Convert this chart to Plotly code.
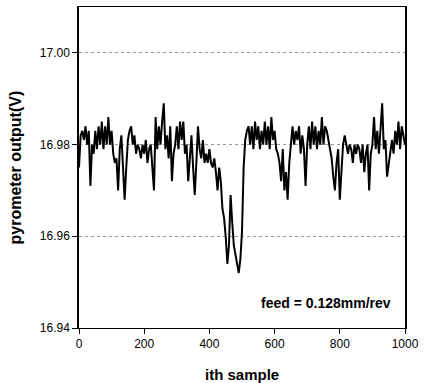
import plotly.graph_objects as go

# sample index (every 5th sample)
samples = list(range(0, 1001, 5))

# pyrometer output (V)
output_v = [
    16.975, 16.982, 16.983, 16.981, 16.984, 16.980, 16.983, 16.971, 16.980, 16.978,
    16.983, 16.979, 16.984, 16.980, 16.985, 16.979, 16.984, 16.980, 16.986, 16.980,
    16.983, 16.978, 16.976, 16.977, 16.970, 16.979, 16.982, 16.974, 16.968, 16.975,
    16.981, 16.983, 16.984, 16.980, 16.982, 16.978, 16.980, 16.979, 16.977, 16.980,
    16.978, 16.981, 16.976, 16.979, 16.980, 16.975, 16.970, 16.986, 16.979, 16.984,
    16.980, 16.985, 16.989, 16.979, 16.982, 16.977, 16.984, 16.972, 16.978, 16.980,
    16.984, 16.979, 16.985, 16.981, 16.985, 16.978, 16.980, 16.972, 16.977, 16.982,
    16.975, 16.969, 16.976, 16.984, 16.979, 16.977, 16.981, 16.976, 16.978, 16.976,
    16.979, 16.976, 16.975, 16.977, 16.974, 16.970, 16.975, 16.972, 16.966, 16.964,
    16.960, 16.954, 16.958, 16.969, 16.963, 16.958, 16.956, 16.954, 16.952, 16.955,
    16.961, 16.975, 16.981, 16.983, 16.984, 16.980, 16.984, 16.979, 16.985, 16.981,
    16.984, 16.979, 16.983, 16.980, 16.985, 16.980, 16.984, 16.979, 16.986, 16.981,
    16.983, 16.979, 16.978, 16.976, 16.972, 16.979, 16.970, 16.974, 16.968, 16.976,
    16.981, 16.984, 16.980, 16.983, 16.981, 16.984, 16.978, 16.982, 16.979, 16.971,
    16.980, 16.984, 16.979, 16.985, 16.980, 16.984, 16.979, 16.983, 16.980, 16.986,
    16.980, 16.984, 16.983, 16.981, 16.979, 16.977, 16.973, 16.970, 16.976, 16.979,
    16.968, 16.974, 16.980, 16.982, 16.980, 16.978, 16.980, 16.979, 16.976, 16.980,
    16.978, 16.980, 16.979, 16.976, 16.980, 16.974, 16.978, 16.980, 16.970, 16.978,
    16.980, 16.986, 16.979, 16.983, 16.978, 16.984, 16.989, 16.979, 16.981, 16.973,
    16.976, 16.979, 16.981, 16.978, 16.983, 16.980, 16.985, 16.979, 16.984, 16.982,
    16.980,
]

x_ticks = [0, 200, 400, 600, 800, 1000]
y_ticks = [16.94, 16.96, 16.98, 17.00]
y_tick_labels = ["16.94", "16.96", "16.98", "17.00"]

FONT = "Liberation Sans, Arial, sans-serif"

fig = go.Figure()
fig.add_trace(go.Scatter(
    x=samples, y=output_v, mode="lines",
    line=dict(color="black", width=2),
    showlegend=False,
))

fig.update_layout(
    width=425, height=383,
    margin=dict(l=79, r=16, t=6, b=55),
    paper_bgcolor="white", plot_bgcolor="white",
    font=dict(family=FONT, size=12, color="black"),
    xaxis=dict(
        range=[0, 1000], tickvals=x_ticks, ticks="outside", ticklen=5,
        tickcolor="black", showline=True, linecolor="black", linewidth=1,
        mirror=True, showgrid=False, zeroline=False,
        tickfont=dict(size=12),
    ),
    yaxis=dict(
        range=[16.94, 17.01], tickvals=y_ticks, ticktext=y_tick_labels,
        ticks="outside", ticklen=5, tickcolor="black",
        showline=True, linecolor="black", linewidth=1.5, mirror=True,
        showgrid=True, gridcolor="#999999", griddash="dot", gridwidth=1,
        zeroline=False, tickfont=dict(size=12),
    ),
    annotations=[
        dict(text="<b>ith sample</b>", xref="paper", yref="paper",
             x=0.5, y=0, yshift=-46, xanchor="center", yanchor="middle",
             showarrow=False, font=dict(size=15)),
        dict(text="<b>pyrometer output(V)</b>", xref="paper", yref="paper",
             x=0, y=0.5, xshift=-64, textangle=-90, xanchor="center",
             yanchor="middle", showarrow=False, font=dict(size=16)),
        dict(text="<b>feed = 0.128mm/rev</b>", xref="x", yref="y",
             x=962, y=16.9454, xanchor="right", yanchor="middle",
             showarrow=False, font=dict(size=14)),
    ],
)

fig.write_html(
    "out.html",
    config={"displayModeBar": False},
    post_script="document.body.style.margin='0';document.body.style.overflow='hidden';",
)
